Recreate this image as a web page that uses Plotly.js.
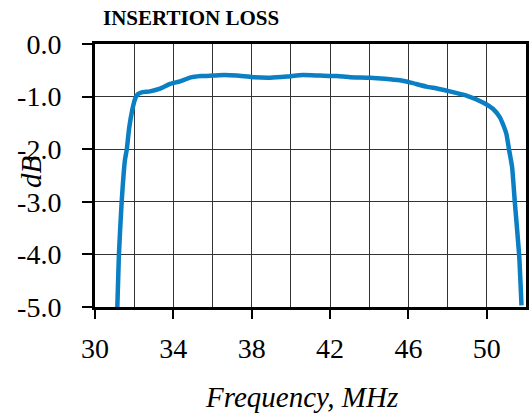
<!DOCTYPE html>
<html>
<head>
<meta charset="utf-8">
<script src="https://cdn.plot.ly/plotly-3.0.1.min.js"></script>
<style>html,body{margin:0;padding:0;background:#fff;}#chart{width:530px;height:414px;}</style>
</head>
<body>
<div id="chart"></div>
<script>
// Frequency in MHz
const freq = [31.14, 31.22, 31.36, 31.53, 31.62, 31.75, 31.90, 32.0, 32.08, 32.2, 32.38, 32.81, 33.32, 33.83, 34.34, 34.85, 35.4, 36.02, 36.6, 37.23, 38.06, 38.93, 39.80, 40.61, 41.48, 42.35, 43.01, 44.03, 44.8, 45.56, 46.07, 46.92, 47.5, 48.11, 48.96, 49.80, 50.31, 50.66, 50.85, 51.00, 51.14, 51.29, 51.43, 51.65, 51.77];
// Insertion loss in dB
const loss = [-5.0, -4.01, -3.01, -2.20, -2.01, -1.58, -1.26, -1.10, -1.01, -0.95, -0.92, -0.90, -0.85, -0.76, -0.71, -0.64, -0.61, -0.60, -0.59, -0.60, -0.63, -0.64, -0.62, -0.59, -0.60, -0.61, -0.63, -0.64, -0.66, -0.69, -0.73, -0.81, -0.85, -0.90, -0.98, -1.11, -1.23, -1.39, -1.55, -1.71, -2.02, -2.34, -3.01, -4.01, -4.97];
const yTickVals = [0, -1, -2, -3, -4, -5];
const yTickLabels = ["0.0", "-1.0", "-2.0", "-3.0", "-4.0", "-5.0"];
const xTickVals = [30, 34, 38, 42, 46, 50];
const xTickLabels = ["30", "34", "38", "42", "46", "50"];

const serif = "Liberation Serif, Times New Roman, serif";

Plotly.newPlot('chart', [{
  x: freq, y: loss, type: 'scatter', mode: 'lines',
  line: {color: '#0a7fc4', width: 4.5, shape: 'spline', smoothing: 0.5}, hoverinfo: 'skip'
}], {
  width: 530, height: 414,
  margin: {l: 95, r: 4, t: 44, b: 107},
  paper_bgcolor: '#fff', plot_bgcolor: '#fff',
  showlegend: false,
  font: {family: serif, color: '#000'},
  title: {text: '<b>INSERTION LOSS</b>', font: {family: serif, size: 21, color: '#000'},
          xref: 'container', yref: 'container', x: 103/530, xanchor: 'left', y: 1 - 18/414, yanchor: 'middle'},
  xaxis: {
    range: [30, 52], tickvals: xTickVals, ticktext: xTickLabels,
    ticks: 'outside', ticklen: 9, tickwidth: 2, tickcolor: '#000',
    showline: true, linecolor: '#000', linewidth: 3, mirror: true,
    showgrid: true, gridcolor: '#333', gridwidth: 1,
    minor: {dtick: 2, tick0: 30, showgrid: true, gridcolor: '#333', gridwidth: 1, ticks: ''},
    zeroline: false, ticklabelstandoff: 5,
    tickfont: {family: serif, size: 28, color: '#000'}
  },
  yaxis: {
    range: [-5, 0], tickvals: yTickVals, ticktext: yTickLabels,
    ticks: 'outside', ticklen: 10, tickwidth: 2, tickcolor: '#000',
    showline: true, linecolor: '#000', linewidth: 3, mirror: true,
    showgrid: true, gridcolor: '#333', gridwidth: 1,
    zeroline: false, ticklabelstandoff: 15,
    tickfont: {family: serif, size: 28, color: '#000'}
  },
  annotations: [{
    text: '<i>dB</i>', xref: 'paper', yref: 'paper', x: (31-95)/431, y: 1 - (172-44)/263,
    xanchor: 'center', yanchor: 'middle', textangle: -90, showarrow: false,
    font: {family: serif, size: 29, color: '#000'}
  }, {
    text: '<i>Frequency, MHz</i>', xref: 'paper', yref: 'paper', x: (301-95)/431, y: -(397-307)/263,
    xanchor: 'center', yanchor: 'middle', showarrow: false,
    font: {family: serif, size: 29, color: '#000'}
  }]
}, {displayModeBar: false, staticPlot: true});
</script>
</body>
</html>
